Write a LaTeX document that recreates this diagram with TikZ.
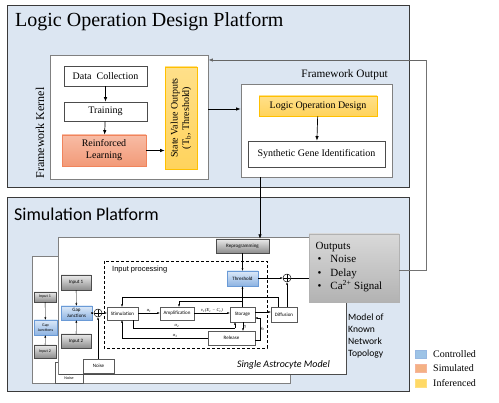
\documentclass[tikz,border=0pt]{standalone}
\usepackage{fontspec}
\setmainfont{Liberation Serif}
\newfontfamily\carl{Carlito}
\newfontfamily\arl{Liberation Sans}
\usetikzlibrary{arrows.meta}
\definecolor{panelbg}{HTML}{DCE6F2}
\definecolor{paneldraw}{HTML}{3A3A3A}
\definecolor{bluetop}{HTML}{DCE9F8}
\definecolor{bluebot}{HTML}{8DB3E2}
\definecolor{bluedraw}{HTML}{6A9AD6}
\definecolor{salmtop}{HTML}{F8BCA5}
\definecolor{salmbot}{HTML}{F29A78}
\definecolor{salmdraw}{HTML}{F0845C}
\definecolor{yeltop}{HTML}{FFE08A}
\definecolor{yelbot}{HTML}{FFD35C}
\definecolor{yeldraw}{HTML}{FFC000}
\definecolor{legblue}{HTML}{9DC3E6}
\definecolor{legsalm}{HTML}{F4B183}
\definecolor{legyel}{HTML}{FFD966}
\newcommand\mybox[7]{\node[#6,minimum width={(#4)-(#2)},minimum height={(#5)-(#3)}] (#1) at ({((#2)+(#4))/2},{((#3)+(#5))/2}) {#7};}
\newcommand\sbs[1]{\textsubscript{#1}}
\tikzset{
  panel/.style={draw=paneldraw, fill=panelbg, line width=0.9pt},
  wbox/.style={draw=black!70, fill=white, inner sep=0pt, line width=0.6pt, align=center, font=\rmfamily\fontsize{10}{12}\selectfont},
  frame/.style={draw=black!50, fill=white, inner sep=0pt, line width=0.8pt},
  tbox/.style={draw=black!65, fill=white, inner sep=0pt, line width=0.4pt, align=center, font=\carl\fontsize{5}{5.5}\selectfont},
  gbox/.style={tbox, draw=black!70, top color=black!8, bottom color=black!45},
  bbox/.style={tbox, draw=bluedraw, top color=bluetop, bottom color=bluebot},
  ybox/.style={wbox, draw=yeldraw, top color=yeltop, bottom color=yelbot},
  sbox/.style={wbox, draw=salmdraw, top color=salmtop, bottom color=salmbot},
  arr/.style={-{Latex[length=4.5pt,width=3.5pt]}, line width=0.7pt},
  sarr/.style={-{Latex[length=2.4pt,width=2pt]}, line width=0.35pt},
  sline/.style={line width=0.35pt},
  sumc/.style={circle, draw, fill=white, minimum size=8pt, inner sep=0pt, line width=0.45pt,
    path picture={\draw[line width=0.45pt] (path picture bounding box.north) -- (path picture bounding box.south)
      (path picture bounding box.west) -- (path picture bounding box.east);}},
  lbl/.style={inner sep=0.4pt, font=\rmfamily\itshape\fontsize{4.5}{5}\selectfont},
}
\begin{document}
\begin{tikzpicture}[x=1pt,y=-1pt]
\useasboundingbox (0,0) rectangle (499,403);
% ===== top panel =====
\draw[panel] (7,5) rectangle (409,187);
\node[anchor=west, inner sep=0pt, font=\rmfamily\fontsize{20}{22}\selectfont] (ttl1) at (15,22) {Logic Operation Design Platform};
\mybox{kernel}{50}{55}{208}{179}{frame}{}
\node[rotate=90, anchor=center, inner sep=0pt, font=\rmfamily\fontsize{12}{14}\selectfont] (kernlbl) at (40,133) {Framework Kernel};
\mybox{dc}{64}{66}{147}{86}{wbox}{Data\ \ Collection}
\mybox{train}{64}{102}{147}{121}{wbox}{Training}
\mybox{rl}{62}{135}{146}{166}{sbox}{Reinforced\\Learning}
\mybox{svo}{165}{67}{197}{169}{ybox}{}
\node[rotate=90, align=center, inner sep=0pt, font=\rmfamily\fontsize{10}{11.5}\selectfont] (svotxt) at (svo.center) {State Value Outputs\\(T\sbs{b}, Threshold)};
\draw[arr] (dc) -- (train);
\draw[arr] (train) -- (rl);
\draw[arr] (rl.east) -- (rl.east -| svo.west);
\mybox{fo}{241}{84}{392}{177}{frame}{}
\node[anchor=east, inner sep=0pt, font=\rmfamily\fontsize{11.3}{13}\selectfont] (folbl) at (388,75) {Framework Output};
\mybox{lod}{259}{96}{377}{116}{ybox}{Logic Operation Design}
\mybox{sgi}{248}{141}{385}{167}{wbox}{Synthetic Gene Identification}
\draw[arr] (lod) -- (sgi);
\draw[arr] (kernel.east |- 0,109) -- (fo.west |- 0,109);
% ===== simulation panel =====
\draw[panel] (7,197) rectangle (409,391);
\node[anchor=west, inner sep=0pt, font=\carl\fontsize{18}{20}\selectfont] (ttl2) at (14,214) {Simulation Platform};
% back (network) copy
\mybox{back}{32}{256}{290}{383}{frame}{}
\mybox{bin1}{34}{292}{56}{302}{gbox}{\fontsize{4}{4.5}\selectfont Input 1}
\mybox{bgap}{34}{320}{57}{335}{bbox}{\fontsize{4}{4.5}\selectfont Gap\\\fontsize{4}{4.5}\selectfont Junctions}
\mybox{bin2}{34}{345}{56}{358}{gbox}{\fontsize{4}{4.5}\selectfont Input 2}
\draw[sarr] (bin1) -- (bgap);
\draw[sarr] (bin2) -- (bgap);
\mybox{bnoise}{55}{362}{83}{383}{tbox}{}
\node[inner sep=0pt, font=\carl\fontsize{4}{4.5}\selectfont] (bnoisetxt) at (69,378) {Noise};
% main astrocyte model
\mybox{main}{58}{237}{346}{374}{frame}{}
\draw[black!70, line width=0.8pt] (59,374.5) -- (346.5,374.5) -- (346.5,238);
\mybox{in1}{61}{275}{91}{290}{gbox}{Input 1}
\mybox{gap}{61}{306}{92}{320}{bbox}{Gap\\Junctions}
\mybox{in2}{61}{334}{91}{348}{gbox}{Input 2}
\draw[sarr] (in1) -- (gap);
\draw[sarr] (in2) -- (gap);
\node[sumc] (c1) at (98,313) {};
\mybox{noise}{83}{359}{114}{373}{tbox}{Noise}
\draw[sarr] (gap.east |- c1) -- (c1.west);
\draw[sarr] (noise.north -| c1) -- (c1.south);
% input processing
\draw[line width=0.8pt, dash pattern=on 3pt off 2pt] (104,261) rectangle (267,348);
\node[anchor=west, inner sep=0pt, font=\arl\fontsize{7.5}{9}\selectfont] (iplbl) at (112,270) {Input processing};
\mybox{stim}{107}{307}{138}{320}{tbox}{Stimulation}
\mybox{amp}{160}{307}{194}{320}{tbox}{Amplification}
\mybox{sto}{230}{307}{255}{322}{tbox}{Storage}
\mybox{dif}{271}{307}{297}{322}{tbox}{Diffusion}
\mybox{thr}{227}{271}{258}{286}{bbox}{Threshold}
\mybox{rep}{216}{239}{269}{253}{gbox}{Reprogramming}
\mybox{rel}{208}{331}{255}{345}{tbox}{Release}
\node[sumc] (c2) at (287,278) {};
\draw[sarr] (c1.east) -- (stim.west |- c1);
\draw[sarr] (stim.east |- 0,313) -- node[lbl, above] (la1) {α\sbs{1}} (amp.west |- 0,313);
\draw[sarr] (amp.east |- 0,313) -- node[lbl, above, pos=0.5] (lv) {v\sbs{1}(E\sbs{c} − C\sbs{c})} (sto.west |- 0,313);
\draw[sarr] (sto.east |- 0,312) -- (dif.west |- 0,312);
\draw[sarr] (sto.north) -- (thr.south);
\coordinate (jn) at (243,301);
\draw[sarr] (jn) -- (179,301) -- (amp.north -| 179,0);
\draw[sline] (dif.north -| 278,0) -- (278,297) -- (122,297);
\draw[sarr] (122,297) -- (stim.north -| 122,0);
\draw[sarr] (dif.north -| c2) -- (c2.south);
\draw[sarr] (thr.east |- c2) -- (c2.west);
\draw[sline] (c2.east) -- (309,278);
\draw[sarr] (rep.south) -- (thr.north);
\draw[sline] (stim.south -| 133,0) -- (133,328) -- node[lbl, above, pos=0.43] (la2) {α\sbs{2}} (235,328);
\draw[sarr] (235,328) -- (sto.south -| 235,0);
\draw[sline] (rel.west |- 0,338) -- node[lbl, above, pos=0.38] (la3) {α\sbs{3}} (122,338);
\draw[sarr] (122,338) -- (stim.south -| 122,0);
\draw[sarr] (sto.south -| 243,0) -- node[lbl, right] (leta) {η} (rel.north -| 243,0);
\draw[sline] (rel.east |- 0,340) -- (260,340) -- node[lbl, right] (lg) {γ\sbs{0}} (260,318);
\draw[sarr] (260,318) -- (sto.east |- 0,318);
\node[anchor=east, inner sep=0pt, font=\carl\itshape\fontsize{10}{12}\selectfont] (samlbl) at (330,365) {Single Astrocyte Model};
\node[anchor=north west, align=left, inner sep=0pt, font=\carl\fontsize{9.6}{12}\selectfont] (mknt) at (348,314) {Model of\\Known\\Network\\Topology};
% outputs
\mybox{outs}{309}{234}{399}{302}{wbox}{}
\path[shade, top color=black!15, bottom color=black!30, draw=black!30, line width=0.5pt] (309,234) rectangle (399,302);
\node[anchor=north west, align=left, inner sep=0pt, font=\rmfamily\fontsize{11}{13.4}\selectfont] (outtxt) at (315.5,242) {Outputs\\\hspace{1.8pt}\makebox[13pt][l]{\textbullet}Noise\\\hspace{1.8pt}\makebox[13pt][l]{\textbullet}Delay\\\hspace{1.8pt}\makebox[13pt][l]{\textbullet}Ca\textsuperscript{2+} Signal};
% links between platforms
\draw[arr] (fo.south -| 260,0) -- (rep.north -| 260,0);
\draw[black!55, line width=0.8pt] (outs.east |- 0,270) -- (426,270) -- (426,60);
\draw[arr, black!60, line width=0.8pt] (426,60) -- (kernel.east |- 0,60);
% legend
\mybox{lgb}{415}{350}{426}{358}{tbox}{}
\path[fill=legblue, draw=bluedraw!70, line width=0.4pt] (415,350) rectangle (426,358);
\mybox{lgs}{415}{364}{426}{372}{tbox}{}
\path[fill=legsalm, draw=salmdraw!60, line width=0.4pt] (415,364) rectangle (426,372);
\mybox{lgy}{415}{379}{426}{387}{tbox}{}
\path[fill=legyel, draw=yeldraw!50, line width=0.4pt] (415,379) rectangle (426,387);
\node[anchor=west, inner sep=0pt, font=\rmfamily\fontsize{10}{12}\selectfont] (lt1) at (433,354) {Controlled};
\node[anchor=west, inner sep=0pt, font=\rmfamily\fontsize{10}{12}\selectfont] (lt2) at (433,368.5) {Simulated};
\node[anchor=west, inner sep=0pt, font=\rmfamily\fontsize{10}{12}\selectfont] (lt3) at (433,383) {Inferenced};
\end{tikzpicture}
\end{document}
